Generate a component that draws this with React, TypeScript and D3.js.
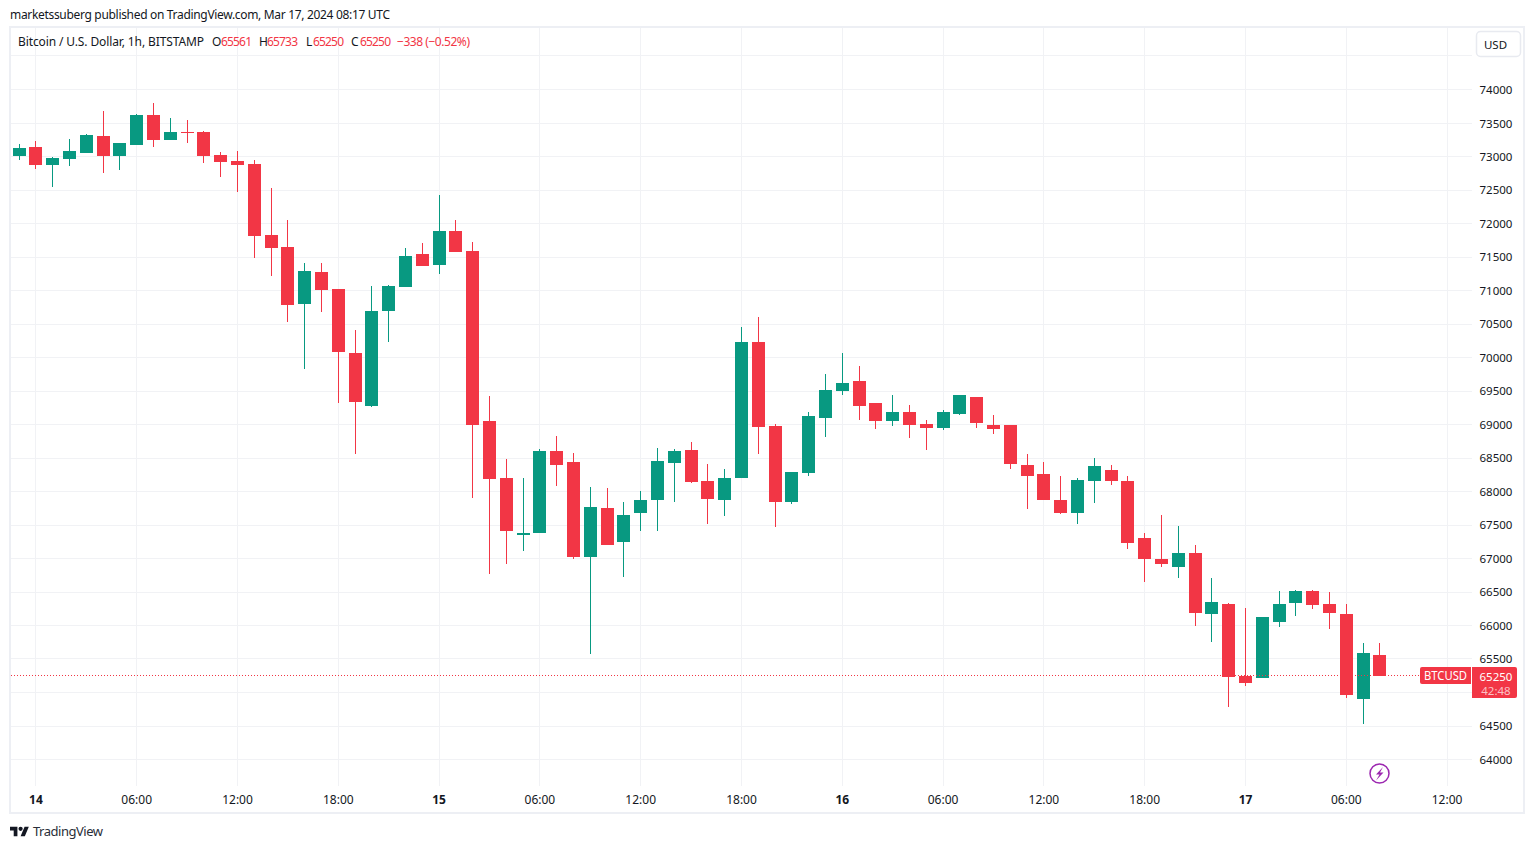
import * as d3 from "d3";

// hourly candles, first one is Mar 13 23:00 UTC
const opens = [73008,73142,72873,72963,73052,73306,73008,73172,73620,73246,73366,73366,73023,72933,72888,71829,71650,70799,71276,71023,70067,69276,70694,71053,71545,71381,71888,71590,69053,68202,67351,67381,68605,68441,67023,67754,67247,67679,67874,68426,68620,68157,67874,68202,70232,68978,67844,68276,69097,69500,69650,69321,69053,69187,69008,68948,69157,69411,68993,68993,68396,68261,67874,67679,68157,68321,68157,67306,66993,66873,67082,66172,66321,65247,65217,66053,66336,66515,66321,66172,64903,65561];
const highs = [73187,73232,72993,73261,73336,73679,73202,73635,73799,73575,73545,73381,73067,73082,72948,72530,72052,71411,71411,71023,70411,71067,71082,71635,71709,72426,72052,71724,69426,68485,68202,68635,68829,68575,68068,68053,67844,68008,68650,68635,68739,68411,68336,70456,70605,69008,68291,69187,69754,70067,69873,69321,69441,69291,69067,69217,69441,69411,69142,68993,68560,68441,68232,68202,68500,68396,68232,67381,67650,67485,67202,66709,66336,66262,66127,66515,66530,66530,66500,66321,65733,65733];
const lows = [72948,72814,72545,72858,73052,72754,72799,73172,73142,73246,73202,72903,72694,72470,71485,71217,70530,69829,70679,69321,68560,69262,70232,71053,71366,71247,71575,67903,66769,66918,67112,67381,68082,66993,65575,67202,66724,67411,67411,67844,68127,67515,67635,68202,68560,67471,67814,68232,68814,69441,69067,68933,68978,68799,68620,68918,69142,68948,68859,68336,67739,67874,67665,67515,67829,68097,67142,66650,66873,66709,65993,65754,64784,65097,65217,65978,66142,66247,65948,64918,64530,65250];
const closes = [73127,72873,72978,73082,73321,73008,73202,73620,73246,73366,73351,73008,72918,72873,71814,71635,70784,71291,71008,70082,69336,70694,71067,71515,71366,71888,71575,68993,68187,67411,67381,68605,68396,67023,67769,67202,67650,67874,68456,68605,68142,67888,68202,70232,68963,67844,68291,69127,69515,69620,69276,69053,69187,68993,68948,69187,69441,69023,68933,68411,68232,67874,67679,68172,68381,68157,67232,66993,66918,67082,66187,66351,65232,65142,66127,66321,66515,66306,66187,64963,65590,65250];
const firstHour = -1;

const priceTicks = [64000,64500,65000,65500,66000,66500,67000,67500,68000,68500,69000,69500,70000,70500,71000,71500,72000,72500,73000,73500,74000];
const gridOnlyTicks = [74500];
const timeHours = [0,6,12,18,24,30,36,42,48,54,60,66,72,78,84];
const timeLabels = ["14","06:00","12:00","18:00","15","06:00","12:00","18:00","16","06:00","12:00","18:00","17","06:00","12:00"];

const lastPrice = 65250;
const legendValues = ["65561","65733","65250","65250"];
const legendKeys = ["O","H","L","C"];

const UP = "#089981";
const DOWN = "#f23645";
const GRID = "#f1f2f5";
const FRAME = "#edeff4";
const TEXT = "#131722";
const FONT = "'Noto Sans', sans-serif";

const x = d3.scaleLinear().domain([0, 84]).range([35.9, 1447.1]);
const y = d3.scaleLinear().domain([64000, 74000]).range([759.5, 89.5]);

const legendX = [212, 259, 306, 351];
const legendValueX = [221, 267, 313, 360];

export default function App() {
  return (
    <svg width={1534} height={849} style={{ position: "absolute", left: 0, top: 0, background: "#fff", fontFamily: FONT }}>
      <text x={10} y={19} fontSize={12} fill={TEXT} textLength={380}>marketssuberg published on TradingView.com, Mar 17, 2024 08:17 UTC</text>

      {/* grid */}
      {[...priceTicks, ...gridOnlyTicks].map((t) => (
        <rect key={t} x={11} y={Math.floor(y(t))} width={1461} height={1} fill={GRID} />
      ))}
      {timeHours.map((h) => (
        <rect key={h} x={Math.floor(x(h))} y={28} width={1} height={758} fill={GRID} />
      ))}

      {/* candles */}
      {opens.map((o, i) => {
        const c = closes[i];
        const cx = Math.floor(x(firstHour + i));
        const top = Math.round(y(Math.max(o, c)));
        const bottom = Math.round(y(Math.min(o, c)));
        const hi = Math.round(y(highs[i]));
        const lo = Math.round(y(lows[i]));
        const color = c >= o ? UP : DOWN;
        return (
          <g key={i} fill={color}>
            <rect x={cx} y={hi} width={1} height={Math.max(lo - hi, 1)} />
            <rect x={cx - 6} y={top} width={13} height={Math.max(bottom - top, 1)} />
          </g>
        );
      })}

      {/* last price line */}
      <line x1={11} x2={1420} y1={Math.floor(y(lastPrice)) + 0.5} y2={Math.floor(y(lastPrice)) + 0.5} stroke={DOWN} strokeWidth={1} strokeDasharray="1 2" />

      {/* frame */}
      <rect x={10} y={27} width={1514} height={786} fill="none" stroke={FRAME} strokeWidth={2} />

      {/* legend */}
      <text x={18} y={46} fontSize={12} fill={TEXT} textLength={186}>Bitcoin / U.S. Dollar, 1h, BITSTAMP</text>
      {legendKeys.map((k, i) => (
        <g key={k} fontSize={12}>
          <text x={legendX[i]} y={46} fill={TEXT}>{k}</text>
          <text x={legendValueX[i]} y={46} fill={DOWN} textLength={31}>{legendValues[i]}</text>
        </g>
      ))}
      <text x={397} y={46} fontSize={12} fill={DOWN} textLength={73}>−338 (−0.52%)</text>

      {/* price axis */}
      {priceTicks.map((t) => (
        <text key={t} x={1496} y={Math.ceil(y(t) - 1) + 5} fontSize={11.5} fill={TEXT} textAnchor="middle">{t}</text>
      ))}

      {/* currency button */}
      <rect x={1476.5} y={31.5} width={44} height={25} rx={4} fill="#fff" stroke="#e8eaf0" strokeWidth={1.5} />
      <text x={1495.5} y={49} fontSize={11.5} fill={TEXT} textAnchor="middle">USD</text>

      {/* time axis */}
      {timeHours.map((h, i) => (
        <text key={h} x={x(h)} y={804} fontSize={12} fill={TEXT} textAnchor="middle" fontWeight={timeLabels[i].length === 2 ? 700 : 400}>
          {timeLabels[i]}
        </text>
      ))}

      {/* last price labels */}
      <path d="M1420 669a2 2 0 0 1 2-2H1471V684H1422a2 2 0 0 1-2-2Z" fill={DOWN} />
      <text x={1424} y={680} fontSize={12} fill="#fff" textLength={43} lengthAdjust="spacingAndGlyphs">BTCUSD</text>
      <path d="M1472 667H1515a2 2 0 0 1 2 2V696a2 2 0 0 1-2 2H1472Z" fill={DOWN} />
      <text x={1496} y={681} fontSize={11.5} fill="#fff" textAnchor="middle">{lastPrice}</text>
      <text x={1496} y={695} fontSize={11.5} fill="#fff" fillOpacity={0.7} textAnchor="middle">42:48</text>

      {/* lightning icon */}
      <circle cx={1379.5} cy={773.5} r={9.5} fill="#fff" stroke="#9c27b0" strokeWidth={1.5} />
      <path d="M1383 767L1376 774.5H1379.5L1376 780.5L1383.5 772.5H1380Z" fill="#9c27b0" />

      {/* branding */}
      <g transform="translate(10,824.6) scale(0.53)" fill={TEXT}>
        <path d="M14 22H7V11H0V4h14v18zM28 22h-8l7.5-18h8L28 22z" />
        <circle cx={20} cy={8} r={4} />
      </g>
      <text x={33} y={836} fontSize={13} fill="#2a2e39" textLength={70}>TradingView</text>
    </svg>
  );
}
